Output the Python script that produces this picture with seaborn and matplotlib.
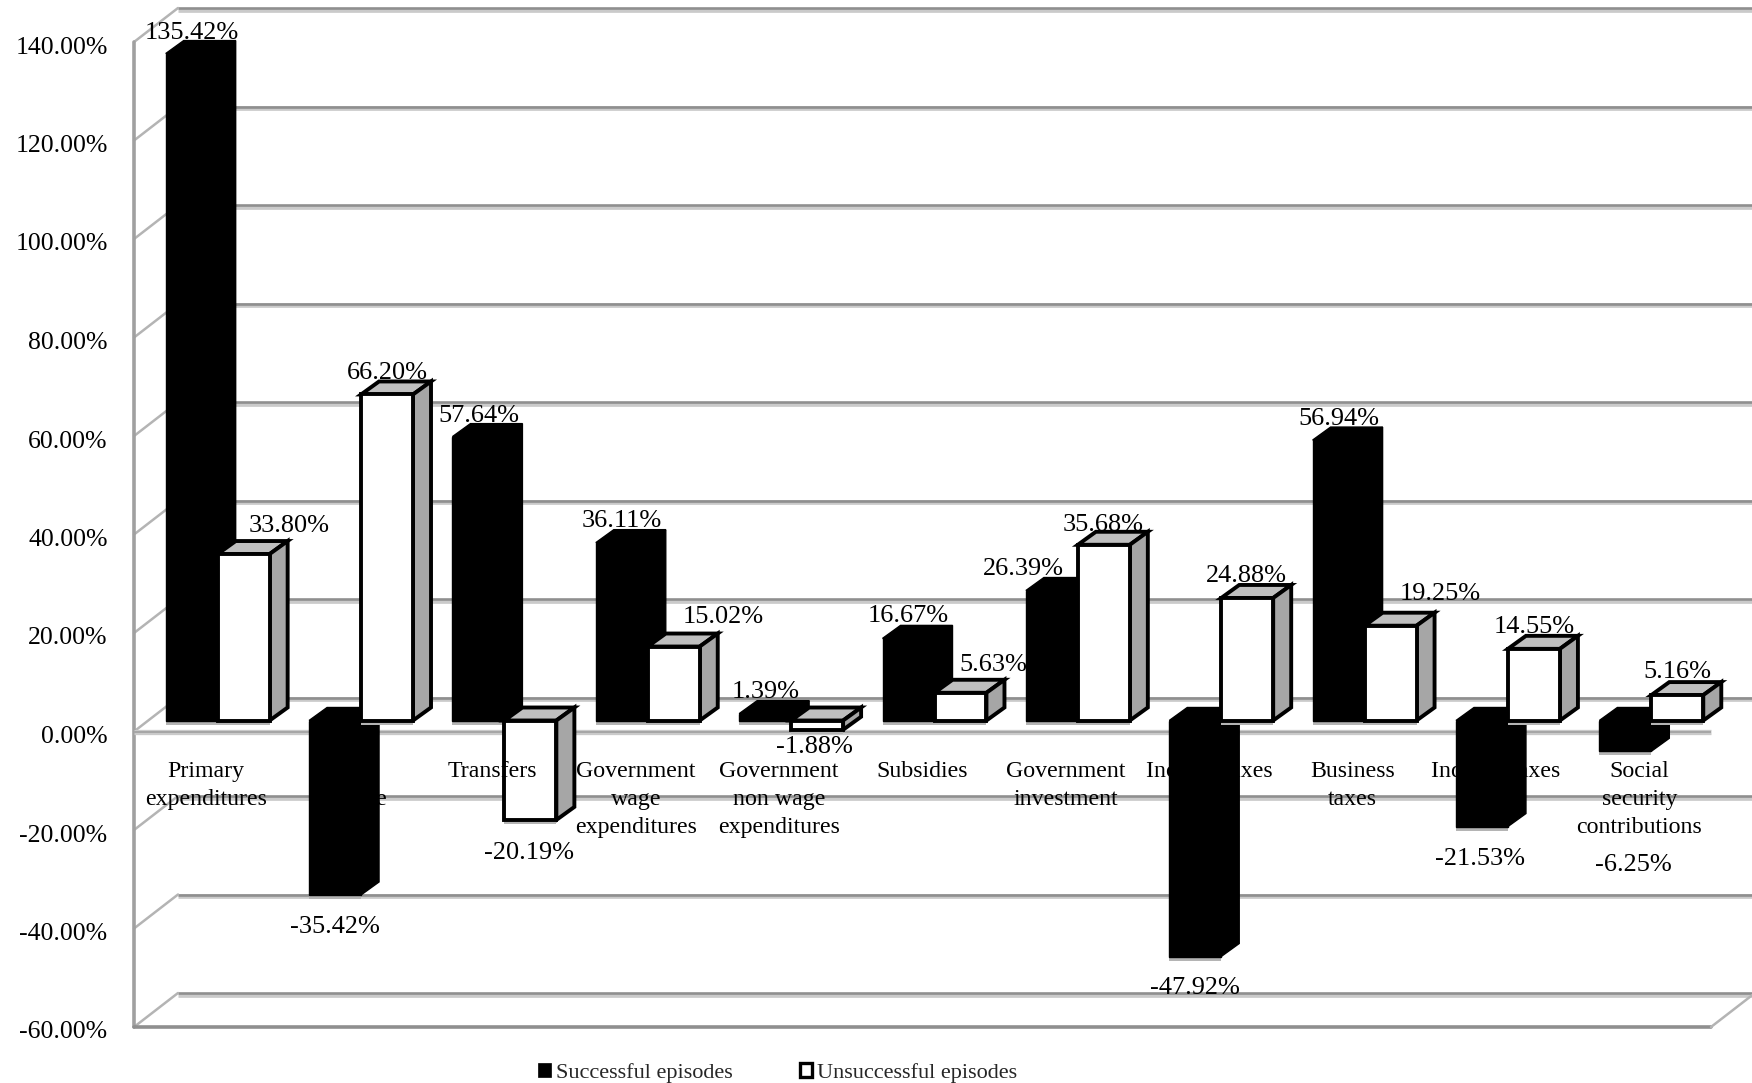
import matplotlib
matplotlib.use("Agg")
import matplotlib.pyplot as plt
import matplotlib.patheffects as pe
from matplotlib.patches import Patch, Polygon
from matplotlib.transforms import ScaledTranslation
import pandas as pd
import seaborn as sns

categories = [
    "Primary\nexpenditures", "Total\nrevenue", "Transfers",
    "Government\nwage\nexpenditures", "Government\nnon wage\nexpenditures",
    "Subsidies", "Government\ninvestment", "Income taxes",
    "Business\ntaxes", "Indirect taxes", "Social\nsecurity\ncontributions",
]
successful = [135.42, -35.42, 57.64, 36.11, 1.39, 16.67, 26.39, -47.92, 56.94, -21.53, -6.25]
unsuccessful = [33.80, 66.20, -20.19, 15.02, -1.88, 5.63, 35.68, 24.88, 19.25, 14.55, 5.16]
y_ticks = [-60, -40, -20, 0, 20, 40, 60, 80, 100, 120, 140]

# label nudges in pixels from the bar tip (x right, y down)
nudge_successful = [(0, -8), (0, 32), (0, -8), (0, -9), (1, -9), (0, -9),
                    (-29, -9), (0, 31), (0, -8), (-2, 32), (8, 114)]
nudge_unsuccessful = [(45, -15), (0, -8), (-1, 33), (49, -17), (-3, 17), (33, -15),
                      (-1, -7), (-1, -9), (50, -19), (0, -9), (0, -10)]

W, H = 1752, 1083
LEFT, RIGHT, TOP, BOTTOM = 134, 1711, 42, 1027
PX_X = (RIGHT - LEFT) / len(categories)
PX_Y = (BOTTOM - TOP) / 200
WALL_DX, WALL_DY = 44 / PX_X, 34 / PX_Y
BAR_DX, BAR_DY = 12 / PX_X, 11 / PX_Y
DEPTH_DX, DEPTH_DY = 18 / PX_X, 13 / PX_Y
GRID = "#8f8f8f"
GRID_LIGHT = "#cacaca"

sns.set_theme(style="white")
plt.rcParams["font.family"] = ["Liberation Serif", "DejaVu Serif"]

fig = plt.figure(figsize=(W / 100, H / 100), dpi=100)
ax = fig.add_axes([LEFT / W, 1 - BOTTOM / H, (RIGHT - LEFT) / W, (BOTTOM - TOP) / H])

df = pd.DataFrame({
    "category": categories * 2,
    "value": successful + unsuccessful,
    "series": ["Successful episodes"] * len(categories) + ["Unsuccessful episodes"] * len(categories),
})
sns.barplot(data=df, x="category", y="value", hue="series", ax=ax, width=0.725, gap=0,
            palette=["black", "white"], saturation=1, legend=False, errorbar=None)

ax.set_xlim(-0.5, len(categories) - 0.5)
ax.set_ylim(-60, 140)
ax.set_xlabel("")
ax.set_ylabel("")
sns.despine(ax=ax, left=True, bottom=True)
ax.patch.set_alpha(0)

# category labels hang from the zero line and sit on top of the bars
ax.spines["bottom"].set_position(("data", 0))
ax.tick_params(axis="x", length=0, pad=21, labelsize=17.2, labelcolor="black")
ax.tick_params(axis="y", length=0, pad=19, labelsize=18.5, labelcolor="black")
ax.xaxis.set_zorder(5)
ax.set_yticks(y_ticks)
ax.set_yticklabels([f"{v:.2f}%" for v in y_ticks])
for lab in ax.get_xticklabels():
    lab.set_linespacing(1.45)
shift_down = ScaledTranslation(0, -3 / 100, fig.dpi_scale_trans)
for lab in ax.get_yticklabels():
    lab.set_transform(lab.get_transform() + shift_down)

# walls and gridlines
x0, x1 = -0.5, len(categories) - 0.5
for v in y_ticks:
    for color, lw, off in [(GRID_LIGHT, 3.4, -0.35), (GRID, 1.9, 0)]:
        ax.plot([x0 + WALL_DX, x1 + WALL_DX], [v + WALL_DY + off] * 2, color=color, lw=lw,
                zorder=0.2, clip_on=False, solid_capstyle="butt")
    ax.plot([x0, x0 + WALL_DX], [v, v + WALL_DY], color="#b4b4b4", lw=1.8, zorder=0.2, clip_on=False)
ax.plot([x0, x0], [-60, 140], color="#a0a0a0", lw=2.6, zorder=0.3, clip_on=False)
ax.plot([x0, x1], [-60, -60], color=GRID, lw=2.6, zorder=0.3, clip_on=False)
ax.plot([x1, x1 + WALL_DX], [-60, -60 + WALL_DY], color="#b4b4b4", lw=1.8, zorder=0.3, clip_on=False)
ax.plot([x0, x1], [0, 0], color=GRID_LIGHT, lw=3.8, zorder=0.3, clip_on=False, solid_capstyle="butt")
ax.plot([x0, x1], [0, 0], color="#a6a6a6", lw=1.4, zorder=0.3, clip_on=False, solid_capstyle="butt")


def add_depth(rect, top_color, side_color, edge, lw, z):
    x, w = rect.get_x(), rect.get_width()
    lo = min(rect.get_y(), rect.get_y() + rect.get_height())
    hi = max(rect.get_y(), rect.get_y() + rect.get_height())
    top = [(x, hi), (x + w, hi), (x + w + DEPTH_DX, hi + DEPTH_DY), (x + DEPTH_DX, hi + DEPTH_DY)]
    side = [(x + w, lo), (x + w + DEPTH_DX, lo + DEPTH_DY), (x + w + DEPTH_DX, hi + DEPTH_DY), (x + w, hi)]
    for pts, color in [(top, top_color), (side, side_color)]:
        ax.add_patch(Polygon(pts, closed=True, facecolor=color, edgecolor=edge, lw=lw,
                             joinstyle="miter", zorder=z, clip_on=False))


def finish_series(container, values, nudges, top_color, side_color, lw, z):
    for rect, value, (nx, ny) in zip(container, values, nudges):
        rect.set_x(rect.get_x() + BAR_DX)
        rect.set_y(rect.get_y() + BAR_DY)
        rect.set_edgecolor("black")
        rect.set_linewidth(lw)
        rect.set_joinstyle("miter")
        rect.set_zorder(z + 0.1)
        rect.set_clip_on(False)
        rect.set_path_effects([
            pe.SimplePatchShadow(offset=(0, -3), shadow_rgbFace="#b4b4b4", alpha=1),
            pe.Normal(),
        ])
        add_depth(rect, top_color, side_color, "black", lw, z)
        cx = rect.get_x() + rect.get_width() / 2
        tip = value + BAR_DY + (DEPTH_DY if value > 0 else 0)
        ax.annotate(f"{value:.2f}%", xy=(cx, tip), xycoords="data",
                    xytext=(nx * 0.72, -ny * 0.72), textcoords="offset points",
                    ha="center", va="center", fontsize=18.9, color="black",
                    zorder=6, annotation_clip=False)


finish_series(ax.containers[0], successful, nudge_successful, "black", "black", 1.0, 2)
finish_series(ax.containers[1], unsuccessful, nudge_unsuccessful, "#bfbfbf", "#a6a6a6", 2.8, 3)

handles = [
    Patch(facecolor="black", edgecolor="black", lw=0.5, label="Successful episodes"),
    Patch(facecolor="white", edgecolor="black", lw=2.4, label="Unsuccessful episodes"),
]
fig.legend(handles=handles, loc="center", bbox_to_anchor=(778 / W, 1 - 1073 / H), ncol=2,
           frameon=False, fontsize=16, handlelength=0.55, handleheight=0.6,
           handletextpad=0.25, columnspacing=3.0, borderpad=0)

fig.savefig("out.png", dpi=100)
